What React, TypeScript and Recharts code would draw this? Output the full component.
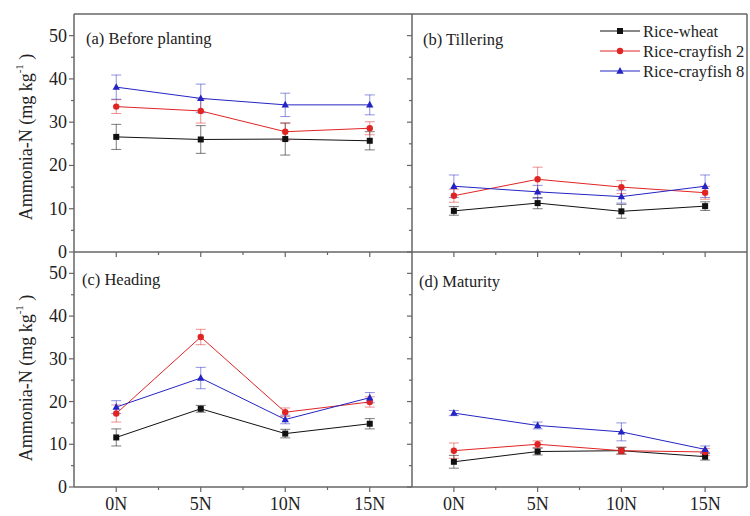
import React from "react";
import { LineChart, Line, XAxis, YAxis, ErrorBar, ReferenceLine } from "recharts";

// x categories (nitrogen levels) and series
const categories = ["0N", "5N", "10N", "15N"];
const seriesNames = ["Rice-wheat", "Rice-crayfish 2", "Rice-crayfish 8"];
const yTicks = [0, 5, 10, 15, 20, 25, 30, 35, 40, 45, 50];
const xTicks = [0, 0.5, 1, 1.5, 2, 2.5, 3];

// (a) Before planting
const beforeWheat = [26.6, 26.0, 26.1, 25.7];
const beforeWheatErr = [2.9, 3.2, 3.7, 2.1];
const beforeCray2 = [33.6, 32.6, 27.8, 28.6];
const beforeCray2Err = [1.6, 2.8, 2.0, 1.5];
const beforeCray8 = [38.1, 35.5, 34.0, 34.0];
const beforeCray8Err = [2.8, 3.3, 2.7, 2.3];

// (b) Tillering
const tillerWheat = [9.5, 11.3, 9.4, 10.6];
const tillerWheatErr = [1.0, 1.3, 1.6, 1.0];
const tillerCray2 = [13.0, 16.8, 15.0, 13.7];
const tillerCray2Err = [1.5, 2.8, 1.5, 1.5];
const tillerCray8 = [15.2, 13.9, 12.8, 15.2];
const tillerCray8Err = [2.6, 1.5, 1.5, 2.6];

// (c) Heading
const headWheat = [11.6, 18.3, 12.5, 14.8];
const headWheatErr = [2.0, 0.8, 1.0, 1.2];
const headCray2 = [17.2, 35.1, 17.5, 19.9];
const headCray2Err = [2.0, 1.8, 1.0, 1.2];
const headCray8 = [18.7, 25.5, 15.8, 20.9];
const headCray8Err = [1.5, 2.5, 1.0, 1.2];

// (d) Maturity
const matureWheat = [5.9, 8.3, 8.5, 7.1];
const matureWheatErr = [1.5, 0.8, 0.8, 0.8];
const matureCray2 = [8.5, 10.0, 8.5, 8.2];
const matureCray2Err = [1.8, 0.8, 0.8, 0.8];
const matureCray8 = [17.3, 14.4, 12.9, 8.8];
const matureCray8Err = [0.6, 0.8, 2.1, 0.8];

const BLACK = "#111111";
const RED = "#e02424";
const BLUE = "#2424c4";
const AXIS = "#666666";
const FONT = '"Liberation Serif", "Times New Roman", serif';

function buildRows(w: number[], we: number[], c2: number[], c2e: number[], c8: number[], c8e: number[]) {
  return categories.map((_, i) => ({
    x: i,
    w: w[i],
    we: we[i],
    c2: c2[i],
    c2e: c2e[i],
    c8: c8[i],
    c8e: c8e[i],
  }));
}

const panelA = buildRows(beforeWheat, beforeWheatErr, beforeCray2, beforeCray2Err, beforeCray8, beforeCray8Err);
const panelB = buildRows(tillerWheat, tillerWheatErr, tillerCray2, tillerCray2Err, tillerCray8, tillerCray8Err);
const panelC = buildRows(headWheat, headWheatErr, headCray2, headCray2Err, headCray8, headCray8Err);
const panelD = buildRows(matureWheat, matureWheatErr, matureCray2, matureCray2Err, matureCray8, matureCray8Err);

function Marker({ shape, cx, cy, color }: any) {
  if (shape === "square") return <rect x={cx - 3} y={cy - 3} width={6} height={6} fill={color} />;
  if (shape === "circle") return <circle cx={cx} cy={cy} r={3.2} fill={color} />;
  return <polygon points={`${cx},${cy - 4} ${cx - 3.7},${cy + 2.7} ${cx + 3.7},${cy + 2.7}`} fill={color} />;
}

const makeDot = (shape: string, color: string) => (props: any) => (
  <Marker key={`${shape}-${props.index}`} shape={shape} cx={props.cx} cy={props.cy} color={color} />
);

function YTick({ x, y, payload, showLabel }: any) {
  const v = payload.value;
  const major = v % 10 === 0;
  return (
    <g>
      <line x1={x - (major ? 5 : 3)} x2={x} y1={y} y2={y} stroke={AXIS} strokeWidth={1.2} />
      {showLabel && major && (
        <text x={x - 7} y={y} dy={6} textAnchor="end" fontSize={18} fontFamily={FONT} fill="#222">
          {v}
        </text>
      )}
    </g>
  );
}

function XTick({ x, y, payload, showLabel }: any) {
  const v = payload.value;
  const major = Number.isInteger(v);
  return (
    <g>
      <line x1={x} x2={x} y1={y} y2={y + (major ? 5 : 3)} stroke={AXIS} strokeWidth={1.2} />
      {showLabel && major && (
        <text x={x} y={y} dy={23} textAnchor="middle" fontSize={18} fontFamily={FONT} fill="#222">
          {categories[v]}
        </text>
      )}
    </g>
  );
}

function Panel({ data, left, top, width, height, margin, yWidth, xHeight, yLabels, xLabels, rightBorder, topBorder }: any) {
  return (
    <div style={{ position: "absolute", left, top }}>
      <LineChart width={width} height={height} data={data} margin={margin}>
        <XAxis
          dataKey="x"
          type="number"
          domain={[-0.5, 3.5]}
          ticks={xTicks}
          interval={0}
          height={xHeight}
          tickSize={0}
          tickMargin={0}
          axisLine={{ stroke: AXIS, strokeWidth: 1.5 }}
          tickLine={false}
          tick={(p: any) => <XTick {...p} showLabel={xLabels} />}
        />
        <YAxis
          type="number"
          domain={[0, 55]}
          ticks={yTicks}
          interval={0}
          width={yWidth}
          tickSize={0}
          tickMargin={0}
          axisLine={{ stroke: AXIS, strokeWidth: 1.5 }}
          tickLine={false}
          tick={(p: any) => <YTick {...p} showLabel={yLabels} />}
        />
        {topBorder && <ReferenceLine y={55} stroke={AXIS} strokeWidth={1.5} />}
        {rightBorder && <ReferenceLine x={3.5} stroke={AXIS} strokeWidth={1.5} />}
        <Line dataKey="w" stroke={BLACK} strokeWidth={1} dot={makeDot("square", BLACK)} isAnimationActive={false}>
          <ErrorBar dataKey="we" direction="y" width={5} stroke={BLACK} strokeOpacity={0.55} strokeWidth={1} isAnimationActive={false} />
        </Line>
        <Line dataKey="c2" stroke={RED} strokeWidth={1} dot={makeDot("circle", RED)} isAnimationActive={false}>
          <ErrorBar dataKey="c2e" direction="y" width={5} stroke={RED} strokeOpacity={0.5} strokeWidth={1} isAnimationActive={false} />
        </Line>
        <Line dataKey="c8" stroke={BLUE} strokeWidth={1} dot={makeDot("triangle", BLUE)} isAnimationActive={false}>
          <ErrorBar dataKey="c8e" direction="y" width={5} stroke={BLUE} strokeOpacity={0.5} strokeWidth={1} isAnimationActive={false} />
        </Line>
      </LineChart>
    </div>
  );
}

function YLabel({ cx, cy }: { cx: number; cy: number }) {
  return (
    <text transform={`translate(${cx},${cy}) rotate(-90)`} textAnchor="middle" dominantBaseline="central" fontSize={18} fontFamily={FONT} fill="#222">
      Ammonia-N (mg kg
      <tspan dy={-7} fontSize={11}>-1</tspan>
      <tspan dy={7}> )</tspan>
    </text>
  );
}

export default function App() {
  const legendColors = [BLACK, RED, BLUE];
  const legendShapes = ["square", "circle", "triangle"];
  const legendY = [31, 51, 71];
  return (
    <div style={{ position: "absolute", left: 0, top: 0, width: 750, height: 516, overflow: "hidden", background: "#fff", fontFamily: FONT }}>
      <Panel data={panelA} left={0} top={0} width={412} height={262} margin={{ top: 14, right: 0, bottom: 0, left: 0 }} yWidth={74} xHeight={10} yLabels xLabels={false} topBorder />
      <Panel data={panelB} left={372} top={0} width={378} height={262} margin={{ top: 14, right: 3, bottom: 0, left: 0 }} yWidth={40} xHeight={10} yLabels={false} xLabels={false} topBorder rightBorder />
      <Panel data={panelC} left={0} top={242} width={412} height={274} margin={{ top: 10, right: 0, bottom: 0, left: 0 }} yWidth={74} xHeight={29} yLabels xLabels />
      <Panel data={panelD} left={372} top={242} width={378} height={274} margin={{ top: 10, right: 3, bottom: 0, left: 0 }} yWidth={40} xHeight={29} yLabels={false} xLabels rightBorder />
      <svg width={750} height={516} style={{ position: "absolute", left: 0, top: 0, pointerEvents: "none" }}>
        <YLabel cx={26} cy={137} />
        <YLabel cx={26} cy={378} />
        <g fontFamily={FONT} fontSize={16.5} fill="#222">
          <text x={86} y={44}>(a) Before planting</text>
          <text x={423} y={45}>(b) Tillering</text>
          <text x={82} y={285}>(c) Heading</text>
          <text x={419} y={287}>(d) Maturity</text>
        </g>
        {seriesNames.map((name, i) => (
          <g key={name}>
            <line x1={600} x2={640} y1={legendY[i]} y2={legendY[i]} stroke={legendColors[i]} strokeWidth={1} />
            <Marker shape={legendShapes[i]} cx={620} cy={legendY[i]} color={legendColors[i]} />
            <text x={643} y={legendY[i]} dy={5.5} fontFamily={FONT} fontSize={16.5} fill="#222">
              {name}
            </text>
          </g>
        ))}
      </svg>
    </div>
  );
}
